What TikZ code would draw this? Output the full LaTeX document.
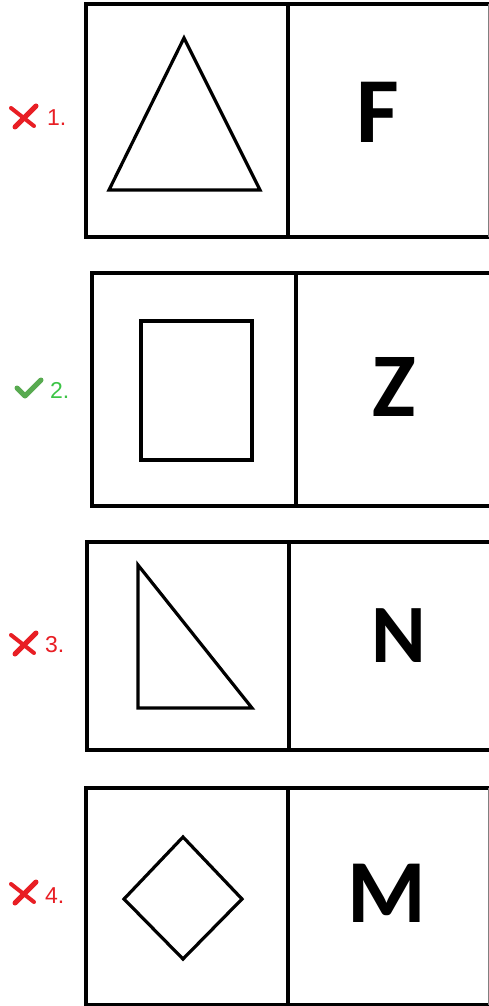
\documentclass[tikz,border=0pt]{standalone}
\usepackage{fontspec}
\setmainfont{Liberation Sans}
\newfontfamily\letterfont{Carlito}
\usetikzlibrary{calc}
\definecolor{ng}{RGB}{232,30,36}
\definecolor{ok}{RGB}{60,196,70}
\definecolor{okmark}{RGB}{88,170,80}
\tikzset{
  frame/.style = {line width=3.8pt},
  fig/.style = {line width=3.2pt, line join=miter},
  ans/.style = {inner sep=0pt, font=\letterfont\bfseries\fontsize{#1}{#1}\selectfont},
  num/.style = {inner sep=0pt, anchor=base west, font=\fontsize{23}{23}\selectfont},
  xmark/.style = {ng, line width=4pt, line cap=round}
}

\begin{document}
\begin{tikzpicture}[x=1pt,y=-1pt]
        \useasboundingbox(0,0)rectangle(489,1006);
        % 枠
        \foreach \xa/\xm/\ya/\yb in {86/288/4/237, 92/296/273/506, 87/289/542/750, 86/288/788/1005}
        {
        \draw[frame](489,\ya)to(\xa,\ya)to(\xa,\yb)to(489,\yb);
        \draw[frame](\xm,\ya)to(\xm,\yb);
        }
        \draw[gray](488,4)to(488,237);
        \draw[gray](488,788)to(488,1005);
        % 図形
        \draw[fig](184,38)to(109,190)to(260,190)--cycle;
        \draw[fig](141,321)rectangle(252,460);
        \draw[fig](138,565)to(138,708)to(252,708)--cycle;
        \draw[fig](183,837)to(242,899)to(183,959)to(124,899)--cycle;
        % 文字
        \node[ans=93](F)at(378,112){F};
        \node[ans=91](Z)at(394,387){Z};
        \node[ans=83](N)at(399,636){N};
        \node[ans=90](M)at(387,893){M};
        % 番号
        \node[num, ng](n1)at(47,126){1.};
        \node[num, ok](n2)at(50,398){2.};
        \node[num, ng](n3)at(45,652){3.};
        \node[num, ng](n4)at(45,903){4.};
        % 印
        \foreach \y in {116,643,892}
        {
        \draw[xmark, shift={(23,\y)}](-12,-8)to(11,10);
        \draw[xmark, shift={(23,\y)}, line width=5pt](13,-10)to(-8,11);
        }
        \draw[okmark, line width=5pt, line cap=round, line join=round](17,388)to(25,396)to(41,380);
    \end{tikzpicture}
\end{document}
